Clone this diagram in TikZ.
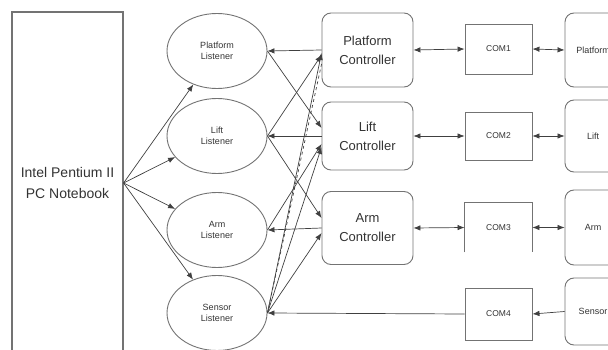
\documentclass[tikz,border=0pt]{standalone}
\usepackage{fontspec}
\setmainfont{Liberation Sans}
\usetikzlibrary{shapes.geometric,arrows.meta}

\begin{document}
\begin{tikzpicture}[x=1pt, y=-1pt, >={Latex[length=7pt,width=5.5pt]},
box/.style={draw=black!55, line width=.9pt, text=black!80},
listener/.style={box, ellipse, minimum width=100pt, minimum height=75pt, align=center, font=\fontsize{9}{11.5}\selectfont},
ctrl/.style={box, rounded corners=9pt, minimum width=91pt, align=center, font=\fontsize{13}{19}\selectfont},
port/.style={box, minimum width=67pt, font=\fontsize{8.5}{10}\selectfont},
device/.style={box, rounded corners=9pt, minimum width=75pt, font=\fontsize{9}{11}\selectfont},
link/.style={draw=black!75, line width=.7pt}]

\clip (0,0) rectangle (608,350);

%%%%%%%% NOTEBOOK %%%%%%%%%%%%%
\node[box, line width=1.2pt, minimum width=111pt, minimum height=342pt, align=center, font=\fontsize{14}{21}\selectfont] (pc) at (67.5,183) {Intel Pentium II\\PC Notebook};

%%%%%%%% LISTENERS, CONTROLLERS, PORTS %%%%%%%%%%%%%
\foreach \name/\txt/\y in {lp/Platform/51, ll/Lift/136, la/Arm/230, ls/Sensor/313}{
  \node[listener] (\name) at (217,\y) {\txt\\Listener};
  \draw[link,->] (pc.east) -- (\name);
}

\foreach \name/\txt/\y/\h in {cp/Platform/50/74, cl/Lift/136/68, ca/Arm/228/73}
  \node[ctrl, minimum height=\h pt] (\name) at (367.5,\y) {\txt\\Controller};

\foreach \i/\y/\h in {1/49/50, 2/136/48, 4/314/52}
  \node[port, minimum height=\h pt] (com\i) at (498.5,\y) {COM\i};
\node[port, draw=none, minimum height=49pt] (com3) at (498.5,227.5) {COM3};
\draw[box] (com3.south west) |- (com3.north east) -- (com3.south east);

\foreach \name/\txt/\y/\h in {rp/Platform/50/74, rl/Lift/136/72, ra/Arm/227.5/75, rs/Sensor/311.5/67}
  \node[device, minimum height=\h pt, label={[xshift=-9.5pt, text=black!80, font=\fontsize{9}{11}\selectfont]center:\txt}] (\name) at (602.5,\y) {};

%%%%%%%% CONNECTIONS %%%%%%%%%%%%%
\foreach \c/\l/\p/\d in {cp/lp/com1/rp, cl/ll/com2/rl, ca/la/com3/ra}{
  \draw[link,->] (\c.west) -- (\l.east);
  \draw[link,<->] (\c.east) -- (\p.west);
  \draw[link,<->] (\p.east) -- (\d.west);
}

\draw[link,->] (lp.east) -- ([yshift=8pt]cl.west);
\draw[link,->] (ll.east) -- ([yshift=-5pt]cp.west);
\draw[link,->] (ll.east) -- ([yshift=10pt]ca.west);
\draw[link,->] (la.east) -- ([yshift=-8pt]cl.west);
\draw[link,->] (ls.east) -- ([yshift=-3pt]cp.west);
\draw[link,dashed] (ls.east) -- ([yshift=-14pt]cp.west);
\draw[link,->] (ls.east) -- ([yshift=-11pt]cl.west);
\draw[link,->] (ls.east) -- ([yshift=-5pt]ca.west);

\draw[link,->] (rs.west) -- (com4.east);
\draw[link,->] (com4.west) -- (ls.east);
\end{tikzpicture}
\end{document}
